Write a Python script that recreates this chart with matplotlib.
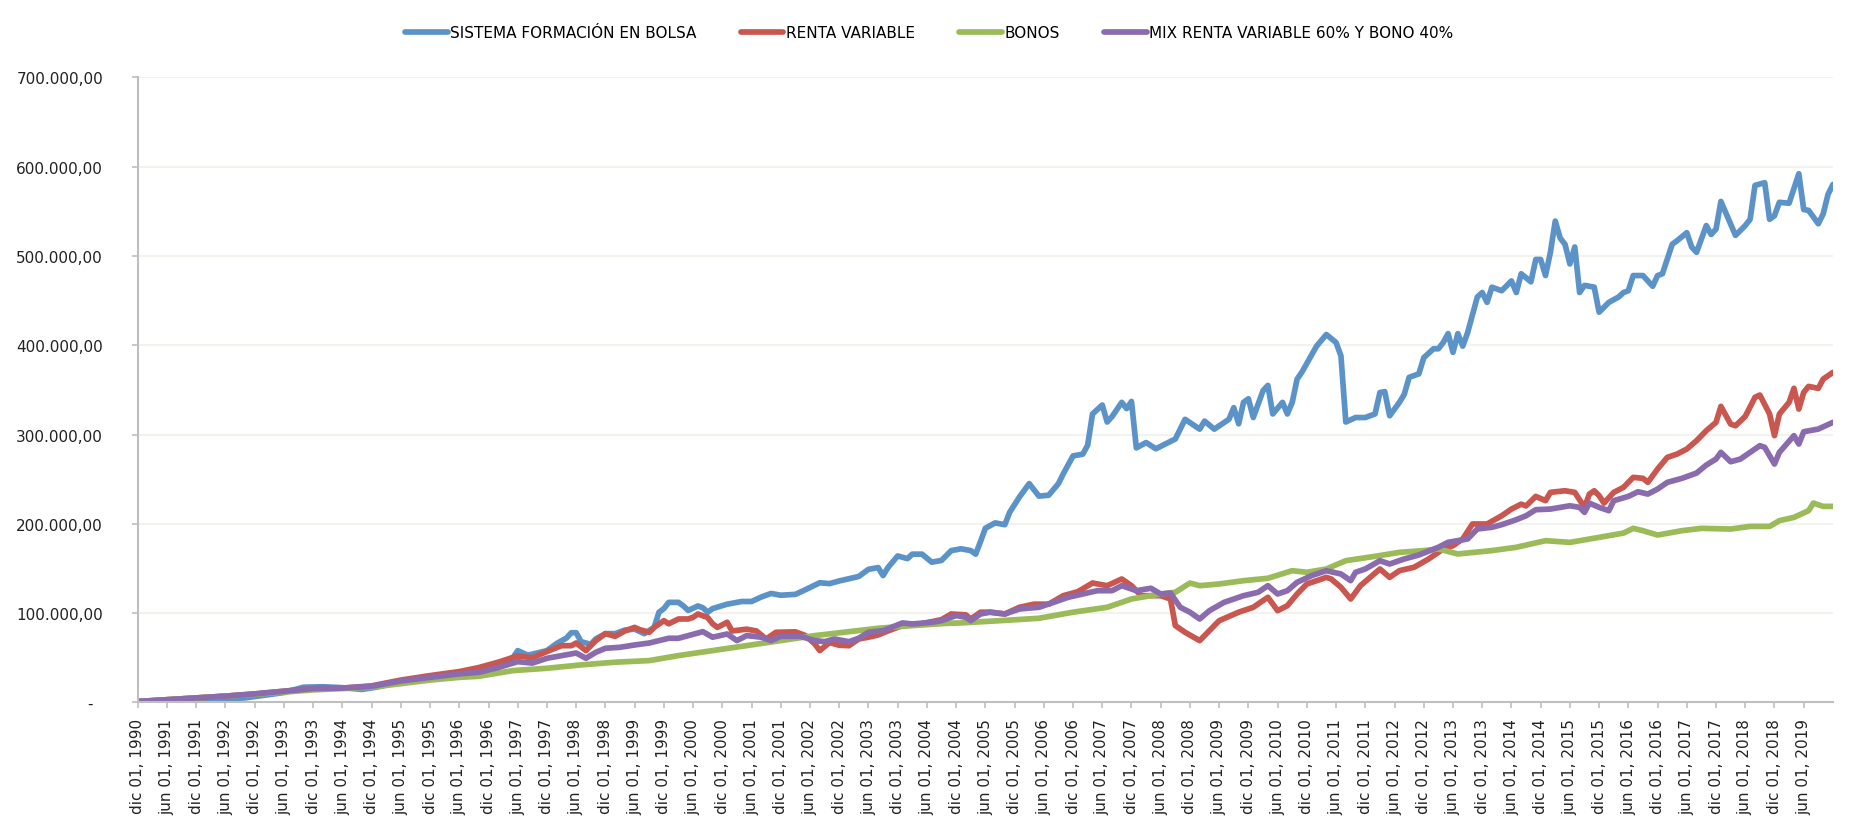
import numpy as np
import pandas as pd
import matplotlib
matplotlib.use("Agg")
import matplotlib.pyplot as plt
from matplotlib.ticker import FuncFormatter

# meses desde dic 1990 (0 = dic 01, 1990) y valores en miles
sistema_m = [0, 6, 12, 18, 22, 26, 30, 34, 38, 42, 46, 49, 54, 60, 66, 70, 74, 77, 78, 80,
             81, 84, 86, 88, 89, 90, 91, 93, 94, 96, 98, 100, 102, 104, 106, 107, 108, 109,
             111, 112, 113, 115, 116, 117, 118, 121, 124, 126, 128, 130, 132, 135, 137, 140,
             142, 144, 148, 150, 152, 153, 154, 156, 158, 159, 161, 163, 165, 167, 169, 171,
             172, 173, 174, 176, 178, 179, 181, 183, 185, 187, 189, 190, 192, 194, 195, 196,
             198, 199, 200, 202, 203, 204, 205, 207, 209, 213, 215, 218, 219, 221, 224, 225,
             226, 227, 228, 229, 231, 232, 233, 235, 236, 237, 238, 239, 242, 244, 246, 247,
             248, 250, 252, 254, 255, 256, 257, 259, 260, 261, 263, 264, 266, 267, 268, 269,
             270, 271, 272, 273, 275, 276, 277, 278, 280, 282, 283, 284, 286, 287, 288, 289,
             290, 291, 292, 293, 294, 295, 296, 297, 299, 300, 302, 304, 305, 306, 307, 309,
             311, 312, 313, 315, 316, 318, 319, 320, 322, 323, 324, 325, 328, 330, 331, 332,
             334, 335, 336, 337, 339, 341, 342, 343, 345, 346, 347, 348]
sistema_v = [1, 2.5, 4.5, 4, 5, 8, 11, 17, 17.5, 16.5, 14.5, 17, 23, 28, 33, 37.4, 44, 50, 58, 53,
             54, 58, 66, 72, 78, 78, 68, 65, 71, 77, 77, 81, 82, 77, 84, 101, 105, 112,
             112, 108, 103, 108, 106, 101, 105, 110, 113, 113, 118, 122, 120, 121, 126, 134,
             133, 136, 141, 149, 151, 142, 151, 164, 161, 166, 166, 157, 159, 170, 172, 170,
             166, 180, 195, 201, 199, 213, 230, 245, 231, 232, 245, 256, 276, 278, 288, 323,
             333, 314, 320, 336, 329, 337, 285, 291, 284, 295, 317, 306, 315, 306, 317, 330,
             312, 336, 340, 319, 349, 355, 323, 336, 323, 336, 362, 370, 399, 412, 403, 388,
             314, 319, 319, 323, 347, 348, 321, 336, 345, 364, 368, 386, 396, 396, 403, 413,
             392, 413, 399, 414, 454, 459, 448, 465, 461, 472, 459, 480, 471, 496, 496, 478,
             504, 539, 520, 513, 491, 510, 459, 467, 465, 437, 448, 454, 459, 461, 478, 478,
             466, 478, 480, 513, 517, 526, 510, 504, 534, 524, 530, 561, 523, 534, 541, 579,
             582, 541, 545, 560, 559, 592, 552, 551, 536, 547, 569, 580]

renta_m = [0, 6, 12, 18, 24, 30, 36, 42, 48, 54, 60, 66, 70, 74, 78, 81, 84, 87, 89, 90, 92,
           94, 96, 98, 100, 102, 103, 105, 106, 108, 109, 111, 113, 114, 115, 117, 118, 119,
           121, 122, 125, 127, 129, 131, 135, 137, 139, 140, 142, 144, 146, 148, 150, 152,
           154, 156, 158, 160, 163, 165, 167, 170, 171, 173, 175, 178, 181, 184, 187, 190,
           193, 196, 199, 202, 204, 206, 210, 212, 213, 215, 218, 220, 222, 226, 229, 232,
           234, 236, 238, 240, 244, 245, 247, 249, 251, 253, 255, 257, 259, 262, 265, 268,
           270, 272, 274, 277, 280, 282, 284, 285, 287, 289, 290, 293, 295, 297, 298, 299,
           300, 301, 303, 305, 307, 309, 310, 312, 314, 316, 318, 320, 322, 324, 325, 327,
           328, 330, 332, 333, 335, 336, 337, 339, 340, 341, 342, 343, 345, 346, 348]
renta_v = [1, 3, 5, 7, 9.5, 12.5, 15.5, 16, 18.5, 25, 30, 34.5, 39, 45, 52, 50, 57, 63.5, 63.5, 66.5, 58,
           69, 77, 74, 80, 84, 81.5, 78.5, 84, 91.5, 88, 93.4, 93.4, 95.3, 99, 95, 88, 84,
           89.7, 80, 82, 80, 71, 78.5, 79, 75, 65.4, 58, 67, 64, 63.5, 71, 73, 75.5,
           80, 84, 88, 87, 90.4, 92.7, 99, 98, 93.4, 101, 101, 99, 106.5, 110, 110, 119.5,
           124, 133.7, 130.7, 138.2, 130.7, 119.5, 119.5, 115.8, 86, 78.5, 69.2, 80.3, 91.5, 101, 106.5, 117.7,
           102.7, 108.3, 121.4, 132.6, 140, 138.2, 128.9, 115.8, 130.7, 140, 149.4, 140, 147.5, 151.3, 160.6, 171.8,
           175.5, 183, 199.8, 199.8, 209, 216.5, 222, 220, 230.7, 225.9, 235.2, 237, 235.2, 218.4, 233.3, 237,
           231.5, 223.2, 235.2, 240.8, 252, 250.9, 246.4, 261.3, 274.4, 278.1, 283.7, 293.1, 304.3, 313.6, 331.5, 311.7,
           309.8, 320.3, 341.6, 344.2, 322.9, 298.7, 322.9, 336, 351.7, 328.5, 347.2, 353.9, 351.7, 362.1, 369.6]

bonos_m = [0, 12, 24, 36, 48, 54, 60, 66, 70, 77, 84, 91, 98, 105, 111, 118, 125, 132, 139,
           146, 152, 159, 166, 169, 177, 185, 192, 199, 204, 210, 213, 216, 218, 222, 227,
           232, 237, 240, 244, 248, 254, 259, 264, 267, 271, 278, 283, 289, 294, 300, 305,
           307, 309, 312, 317, 321, 327, 331, 335, 337, 340, 343, 344, 346, 348]
bonos_v = [1, 5, 9, 14, 17, 21, 25, 28, 29.2, 35.6, 38.2, 42, 45, 46.8, 52.4, 58, 63.6, 69.2, 74.8,
           79.2, 83, 86, 88.5, 89, 91.5, 94.2, 101, 106.5, 115.8, 121.4, 123.3, 133.7, 130.7, 132.6, 136.3,
           139, 147.5, 145.7, 149.4, 158.7, 163.6, 168, 170, 171.8, 166.2, 170, 173.7, 181.1, 179.2, 184.8, 189.6,
           194.9, 192.3, 187.4, 192.3, 194.9, 194.1, 197.1, 197.1, 203.5, 207.2, 214.7, 223.2, 219.5, 219.5]

mix_m = [0, 6, 12, 18, 24, 30, 36, 42, 48, 54, 60, 66, 70, 74, 78, 81, 84, 87, 90, 92, 94,
         96, 99, 102, 105, 107, 109, 111, 113, 116, 118, 121, 123, 125, 128, 130, 132, 136,
         139, 141, 143, 146, 148, 150, 153, 157, 159, 163, 165, 168, 170, 171, 173, 175,
         178, 181, 185, 188, 191, 194, 197, 200, 202, 205, 208, 210, 212, 214, 216, 218,
         220, 223, 227, 230, 232, 234, 236, 238, 241, 244, 247, 249, 250, 252, 255, 257,
         260, 263, 267, 269, 271, 273, 275, 278, 280, 283, 285, 287, 290, 294, 296, 297,
         298, 300, 302, 303, 306, 308, 310, 312, 314, 317, 320, 322, 324, 325, 327, 329,
         331, 333, 334, 335, 336, 337, 340, 341, 342, 345, 348]
mix_v = [1, 3, 5, 7, 9.5, 12.5, 15.5, 16, 18, 24, 28, 32, 33.7, 39, 45.6, 44, 49.4, 52.4, 55.3, 49.4, 56,
         60.6, 61.7, 64.3, 66.5, 69.2, 71.8, 71.8, 74.8, 79.2, 73, 76.6, 69.2, 74.8, 73, 69.2, 74, 74,
         69.2, 68, 71, 68, 71.8, 78.5, 80.3, 89, 87.8, 89.7, 91.5, 97.2, 95.3, 91.5, 99, 101,
         99, 104.6, 106.5, 112, 117.7, 121.4, 125.1, 125.1, 130.7, 125.1, 127.8, 121.4, 122.5, 106.5, 101, 93.4,
         102.7, 112, 119.5, 123.3, 130.7, 121.4, 125.1, 134.5, 142, 147.5, 143.8, 136.3, 145.7, 149.4, 158.7, 155,
         160.6, 165.1, 173.7, 179.3, 181.1, 183, 194.2, 196.1, 199, 204.6, 209, 215.8, 216.5, 220.2, 218.4, 212.8,
         223.2, 218.4, 214.7, 225.9, 230.7, 235.9, 233.3, 238.9, 246.4, 250.9, 256.8, 265.8, 272.5, 280, 269.5, 272.5,
         280, 287.5, 285.6, 276.2, 266.9, 280, 298.7, 289.3, 303.1, 306.1, 313.6]

series = [
    ("SISTEMA FORMACIÓN EN BOLSA", sistema_m, sistema_v, "#5B93C9"),
    ("RENTA VARIABLE", renta_m, renta_v, "#C9564F"),
    ("BONOS", bonos_m, bonos_v, "#9BBB59"),
    ("MIX RENTA VARIABLE 60% Y BONO 40%", mix_m, mix_v, "#8A6BAE"),
]

MESES = {6: "jun", 12: "dic"}
tick_dates = pd.date_range("1990-12-01", "2019-06-01", freq="6MS")
tick_pos = [(d.year - 1990) * 12 + d.month - 12 for d in tick_dates]
tick_labels = [f"{MESES[d.month]} 01, {d.year}" for d in tick_dates]

plt.rcParams["font.family"] = ["DejaVu Sans"]

fig = plt.figure(figsize=(18.52, 8.28), dpi=100)
ax = fig.add_axes([0.0744, 0.1505, 0.9153, 0.7549])

for name, m, v, color in series:
    ax.plot(m, np.array(v) * 1000, color=color, lw=4.1, label=name,
            solid_joinstyle="round", solid_capstyle="round")

ax.set_xlim(0, 348)
ax.set_ylim(0, 700000)
ax.set_yticks(np.arange(0, 700001, 100000))


def fmt_y(val, pos):
    if val == 0:
        return "-  "
    s = f"{val:,.2f}"
    return s.replace(",", "X").replace(".", ",").replace("X", ".")


ax.yaxis.set_major_formatter(FuncFormatter(fmt_y))
ax.set_xticks(tick_pos)
ax.set_xticklabels(tick_labels, rotation=90)

ax.grid(axis="y", color="#F3F3EE", lw=1.5)
ax.set_axisbelow(True)
for side in ("top", "right"):
    ax.spines[side].set_visible(False)
for side in ("left", "bottom"):
    ax.spines[side].set_color("#BFBFBF")
    ax.spines[side].set_linewidth(1.5)

ax.tick_params(axis="y", length=4, width=1.2, color="#BFBFBF", pad=21, labelsize=11, labelcolor="#222222")
ax.tick_params(axis="x", length=4, width=1.2, color="#BFBFBF", pad=7, labelsize=11, labelcolor="#222222")

fig.legend(loc="center", bbox_to_anchor=(0.5016, 0.959), ncol=4, frameon=False,
           fontsize=11, handlelength=2.8, handletextpad=0.15, columnspacing=2.9)

fig.savefig("out.png", dpi=100)
